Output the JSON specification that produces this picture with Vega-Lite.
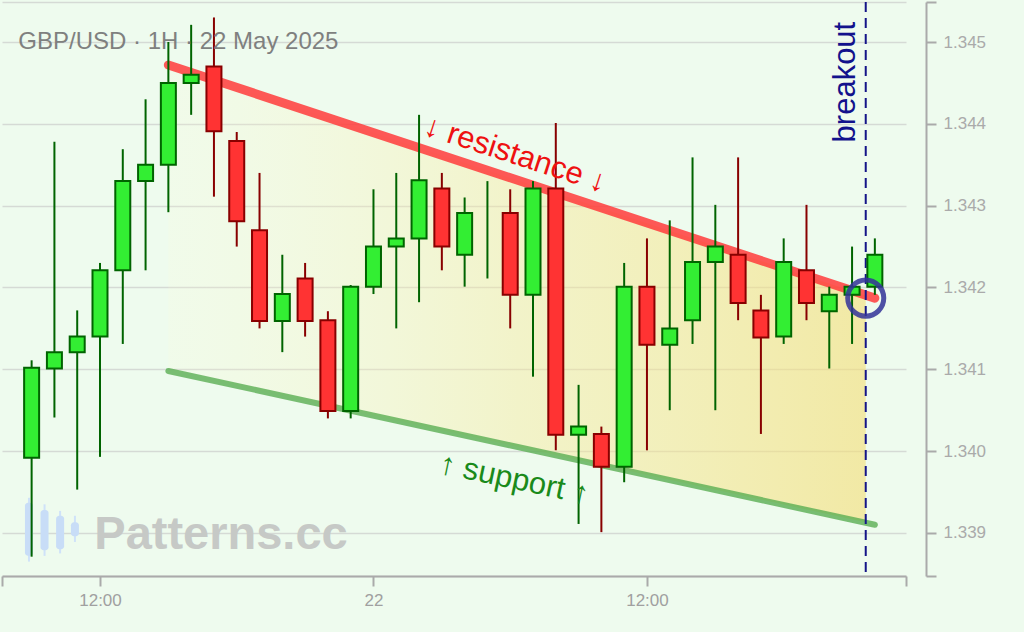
{
  "$schema": "https://vega.github.io/schema/vega-lite/v6.json",
  "width": 904,
  "height": 574,
  "autosize": "none",
  "padding": {"left": 2, "top": 2, "right": 118, "bottom": 56},
  "background": "#eefbee",
  "config": {
    "view": {"stroke": null},
    "font": "Liberation Sans",
    "axis": {"labelFont": "Liberation Sans"}
  },
  "datasets": {
    "candles": [
      {"t": "2025-05-21T09:00", "o": 1.33992, "h": 1.34111, "l": 1.33871, "c": 1.34102},
      {"t": "2025-05-21T10:00", "o": 1.34101, "h": 1.34378, "l": 1.34041, "c": 1.34121},
      {"t": "2025-05-21T11:00", "o": 1.34121, "h": 1.34172, "l": 1.33953, "c": 1.34140},
      {"t": "2025-05-21T12:00", "o": 1.34140, "h": 1.34230, "l": 1.33993, "c": 1.34221},
      {"t": "2025-05-21T13:00", "o": 1.34221, "h": 1.34369, "l": 1.34131, "c": 1.34330},
      {"t": "2025-05-21T14:00", "o": 1.34330, "h": 1.34430, "l": 1.34221, "c": 1.34350},
      {"t": "2025-05-21T15:00", "o": 1.34350, "h": 1.34500, "l": 1.34292, "c": 1.34450},
      {"t": "2025-05-21T16:00", "o": 1.34450, "h": 1.34521, "l": 1.34411, "c": 1.34460},
      {"t": "2025-05-21T17:00", "o": 1.34470, "h": 1.34530, "l": 1.34311, "c": 1.34391},
      {"t": "2025-05-21T18:00", "o": 1.34379, "h": 1.34390, "l": 1.34250, "c": 1.34281},
      {"t": "2025-05-21T19:00", "o": 1.34270, "h": 1.34340, "l": 1.34150, "c": 1.34159},
      {"t": "2025-05-21T20:00", "o": 1.34159, "h": 1.34240, "l": 1.34121, "c": 1.34192},
      {"t": "2025-05-21T21:00", "o": 1.34211, "h": 1.34230, "l": 1.34140, "c": 1.34159},
      {"t": "2025-05-21T22:00", "o": 1.34160, "h": 1.34171, "l": 1.34040, "c": 1.34049},
      {"t": "2025-05-21T23:00", "o": 1.34049, "h": 1.34203, "l": 1.34040, "c": 1.34201},
      {"t": "2025-05-22T00:00", "o": 1.34201, "h": 1.34320, "l": 1.34192, "c": 1.34250},
      {"t": "2025-05-22T01:00", "o": 1.34250, "h": 1.34340, "l": 1.34150, "c": 1.34260},
      {"t": "2025-05-22T02:00", "o": 1.34260, "h": 1.34411, "l": 1.34182, "c": 1.34331},
      {"t": "2025-05-22T03:00", "o": 1.34321, "h": 1.34340, "l": 1.34221, "c": 1.34250},
      {"t": "2025-05-22T04:00", "o": 1.34240, "h": 1.34310, "l": 1.34201, "c": 1.34291},
      {"t": "2025-05-22T05:00", "o": null, "h": 1.34330, "l": 1.34211, "c": null},
      {"t": "2025-05-22T06:00", "o": 1.34291, "h": 1.34320, "l": 1.34150, "c": 1.34191},
      {"t": "2025-05-22T07:00", "o": 1.34191, "h": 1.34330, "l": 1.34091, "c": 1.34321},
      {"t": "2025-05-22T08:00", "o": 1.34321, "h": 1.34401, "l": 1.34001, "c": 1.34020},
      {"t": "2025-05-22T09:00", "o": 1.34020, "h": 1.34081, "l": 1.33911, "c": 1.34030},
      {"t": "2025-05-22T10:00", "o": 1.34021, "h": 1.34030, "l": 1.33901, "c": 1.33981},
      {"t": "2025-05-22T11:00", "o": 1.33981, "h": 1.34230, "l": 1.33962, "c": 1.34201},
      {"t": "2025-05-22T12:00", "o": 1.34201, "h": 1.34260, "l": 1.34001, "c": 1.34130},
      {"t": "2025-05-22T13:00", "o": 1.34130, "h": 1.34282, "l": 1.34050, "c": 1.34150},
      {"t": "2025-05-22T14:00", "o": 1.34160, "h": 1.34359, "l": 1.34131, "c": 1.34231},
      {"t": "2025-05-22T15:00", "o": 1.34231, "h": 1.34301, "l": 1.34050, "c": 1.34250},
      {"t": "2025-05-22T16:00", "o": 1.34240, "h": 1.34359, "l": 1.34160, "c": 1.34181},
      {"t": "2025-05-22T17:00", "o": 1.34172, "h": 1.34191, "l": 1.34021, "c": 1.34139},
      {"t": "2025-05-22T18:00", "o": 1.34140, "h": 1.34260, "l": 1.34131, "c": 1.34231},
      {"t": "2025-05-22T19:00", "o": 1.34221, "h": 1.34301, "l": 1.34160, "c": 1.34181},
      {"t": "2025-05-22T20:00", "o": 1.34171, "h": 1.34201, "l": 1.34101, "c": 1.34191},
      {"t": "2025-05-22T21:00", "o": 1.34191, "h": 1.34250, "l": 1.34131, "c": 1.34201},
      {"t": "2025-05-22T22:00", "o": 1.34201, "h": 1.34260, "l": 1.34191, "c": 1.34240}
    ],
    "resistance": [
      {"t": "2025-05-21T15:00", "p": 1.34472},
      {"t": "2025-05-22T22:00", "p": 1.34187}
    ],
    "support": [
      {"t": "2025-05-21T15:00", "p": 1.34098},
      {"t": "2025-05-22T22:00", "p": 1.33910}
    ],
    "zone": [
      {"t": "2025-05-21T15:00", "top": 1.34472, "bot": 1.34098},
      {"t": "2025-05-22T21:36", "top": 1.34190, "bot": 1.33913}
    ],
    "breakout": [
      {"t": "2025-05-22T21:36", "p": 1.34187}
    ],
    "logo": [
      {"t": "2025-05-21T08:53", "o": 1.33872, "c": 1.33937, "h": 1.33943, "l": 1.33865},
      {"t": "2025-05-21T09:34", "o": 1.33879, "c": 1.33928, "h": 1.33935, "l": 1.33872},
      {"t": "2025-05-21T10:15", "o": 1.33880, "c": 1.33921, "h": 1.33927, "l": 1.33875},
      {"t": "2025-05-21T10:54", "o": 1.33896, "c": 1.33913, "h": 1.33921, "l": 1.33889}
    ],
    "labels": [
      {"key": "title", "text": "GBP/USD · 1H · 22 May 2025", "t": "2025-05-21T08:25", "p": 1.34492},
      {"key": "res", "text": "↓ resistance ↓", "t": "2025-05-22T06:13", "p": 1.34362},
      {"key": "sup", "text": "↑ support ↑", "t": "2025-05-22T06:10", "p": 1.33965},
      {"key": "brk", "text": "breakout", "t": "2025-05-22T20:44", "p": 1.34451},
      {"key": "wm", "text": "Patterns.cc", "t": "2025-05-21T11:45", "p": 1.33880}
    ]
  },
  "layer": [
    {
      "data": {"name": "zone"},
      "mark": {
        "type": "area",
        "fill": {
          "gradient": "linear", "x1": 0, "y1": 0, "x2": 1, "y2": 0,
          "stops": [
            {"offset": 0, "color": "rgba(255,250,210,0.15)"},
            {"offset": 0.5, "color": "rgba(248,232,150,0.42)"},
            {"offset": 1, "color": "rgba(244,222,120,0.62)"}
          ]
        }
      },
      "encoding": {
        "x": {
          "field": "t", "type": "temporal",
          "scale": {"domain": [{"year": 2025, "month": 5, "date": 21, "hours": 7, "minutes": 42}, {"year": 2025, "month": 5, "date": 22, "hours": 23, "minutes": 22}], "nice": false, "padding": 0},
          "axis": {
            "title": null,
            "values": [
              {"year": 2025, "month": 5, "date": 21, "hours": 7, "minutes": 42},
              {"year": 2025, "month": 5, "date": 21, "hours": 12},
              {"year": 2025, "month": 5, "date": 22, "hours": 0},
              {"year": 2025, "month": 5, "date": 22, "hours": 12},
              {"year": 2025, "month": 5, "date": 22, "hours": 23, "minutes": 22}
            ],
            "labelExpr": "datum.value < datetime(2025,4,21,9) || datum.value > datetime(2025,4,22,23) ? '' : (hours(datum.value) == 0 ? timeFormat(datum.value, '%d') : timeFormat(datum.value, '%H:%M'))",
            "grid": false,
            "domainColor": "#aaaaaa", "domainWidth": 2,
            "tickColor": "#aaaaaa", "tickWidth": 2, "tickSize": 10,
            "labelColor": "#a0a0a0", "labelFontSize": 17, "labelPadding": 6,
            "labelFlush": false, "labelOverlap": false
          }
        },
        "y": {
          "field": "top", "type": "quantitative",
          "scale": {"domain": [1.338474, 1.345489], "zero": false, "nice": false, "padding": 0},
          "axis": {
            "title": null,
            "orient": "right",
            "offset": 20,
            "values": [1.338474, 1.339, 1.34, 1.341, 1.342, 1.343, 1.344, 1.345, 1.345489],
            "labelExpr": "datum.value < 1.3386 || datum.value > 1.3453 ? '' : format(datum.value, '.3f')",
            "grid": true, "gridColor": "#d5dad5", "gridWidth": 1.5,
            "domainColor": "#aaaaaa", "domainWidth": 2,
            "tickColor": "#aaaaaa", "tickWidth": 2, "tickSize": 10,
            "labelColor": "#aaaaaa", "labelFontSize": 17, "labelPadding": 7,
            "labelFlush": false, "labelOverlap": false
          }
        },
        "y2": {"field": "bot"}
      }
    },
    {
      "data": {"name": "logo"},
      "mark": {"type": "rule", "color": "#cfe2f9", "strokeWidth": 2},
      "encoding": {
        "x": {"field": "t", "type": "temporal"},
        "y": {"field": "l", "type": "quantitative"},
        "y2": {"field": "h"}
      }
    },
    {
      "data": {"name": "logo"},
      "mark": {"type": "bar", "color": "#c8ddf7", "width": 8, "cornerRadius": 3},
      "encoding": {
        "x": {"field": "t", "type": "temporal"},
        "y": {"field": "o", "type": "quantitative"},
        "y2": {"field": "c"}
      }
    },
    {
      "data": {"name": "labels"},
      "transform": [{"filter": "datum.key == 'wm'"}],
      "mark": {"type": "text", "align": "left", "baseline": "alphabetic", "fontSize": 47, "fontWeight": "bold", "color": "#c6c9c6"},
      "encoding": {
        "x": {"field": "t", "type": "temporal"},
        "y": {"field": "p", "type": "quantitative"},
        "text": {"field": "text"}
      }
    },
    {
      "data": {"name": "resistance"},
      "mark": {"type": "line", "color": "#ff3b3b", "strokeWidth": 9, "strokeCap": "round", "opacity": 0.85},
      "encoding": {
        "x": {"field": "t", "type": "temporal"},
        "y": {"field": "p", "type": "quantitative"}
      }
    },
    {
      "data": {"name": "support"},
      "mark": {"type": "line", "color": "#5aae52", "strokeWidth": 6, "strokeCap": "round", "opacity": 0.8},
      "encoding": {
        "x": {"field": "t", "type": "temporal"},
        "y": {"field": "p", "type": "quantitative"}
      }
    },
    {
      "data": {"name": "breakout"},
      "mark": {"type": "rule", "color": "#141488", "strokeWidth": 2, "strokeDash": [10, 6]},
      "encoding": {
        "x": {"field": "t", "type": "temporal"}
      }
    },
    {
      "data": {"name": "candles"},
      "mark": {"type": "rule", "strokeWidth": 2},
      "encoding": {
        "x": {"field": "t", "type": "temporal"},
        "y": {"field": "l", "type": "quantitative"},
        "y2": {"field": "h"},
        "color": {"condition": {"test": "datum.c >= datum.o", "value": "#006400"}, "value": "#880000"}
      }
    },
    {
      "data": {"name": "candles"},
      "mark": {"type": "bar", "width": 15, "strokeWidth": 2},
      "encoding": {
        "x": {"field": "t", "type": "temporal"},
        "y": {"field": "o", "type": "quantitative"},
        "y2": {"field": "c"},
        "fill": {"condition": {"test": "datum.c >= datum.o", "value": "#33ee33"}, "value": "#ff3333"},
        "stroke": {"condition": {"test": "datum.c >= datum.o", "value": "#006400"}, "value": "#880000"}
      }
    },
    {
      "data": {"name": "breakout"},
      "mark": {"type": "point", "shape": "circle", "filled": false, "size": 1300, "strokeWidth": 5, "color": "#333399", "opacity": 0.85},
      "encoding": {
        "x": {"field": "t", "type": "temporal"},
        "y": {"field": "p", "type": "quantitative"}
      }
    },
    {
      "data": {"name": "labels"},
      "transform": [{"filter": "datum.key == 'title'"}],
      "mark": {"type": "text", "align": "left", "baseline": "alphabetic", "fontSize": 24, "color": "#7a7a7a", "opacity": 0.95},
      "encoding": {
        "x": {"field": "t", "type": "temporal"},
        "y": {"field": "p", "type": "quantitative"},
        "text": {"field": "text"}
      }
    },
    {
      "data": {"name": "labels"},
      "transform": [{"filter": "datum.key == 'res'"}],
      "mark": {"type": "text", "align": "center", "baseline": "middle", "fontSize": 31, "angle": 18, "color": "#ee1111"},
      "encoding": {
        "x": {"field": "t", "type": "temporal"},
        "y": {"field": "p", "type": "quantitative"},
        "text": {"field": "text"}
      }
    },
    {
      "data": {"name": "labels"},
      "transform": [{"filter": "datum.key == 'sup'"}],
      "mark": {"type": "text", "align": "center", "baseline": "middle", "fontSize": 31, "angle": 12, "color": "#1a8a1a"},
      "encoding": {
        "x": {"field": "t", "type": "temporal"},
        "y": {"field": "p", "type": "quantitative"},
        "text": {"field": "text"}
      }
    },
    {
      "data": {"name": "labels"},
      "transform": [{"filter": "datum.key == 'brk'"}],
      "mark": {"type": "text", "align": "center", "baseline": "middle", "fontSize": 31, "angle": 270, "color": "#12128c"},
      "encoding": {
        "x": {"field": "t", "type": "temporal"},
        "y": {"field": "p", "type": "quantitative"},
        "text": {"field": "text"}
      }
    }
  ]
}
